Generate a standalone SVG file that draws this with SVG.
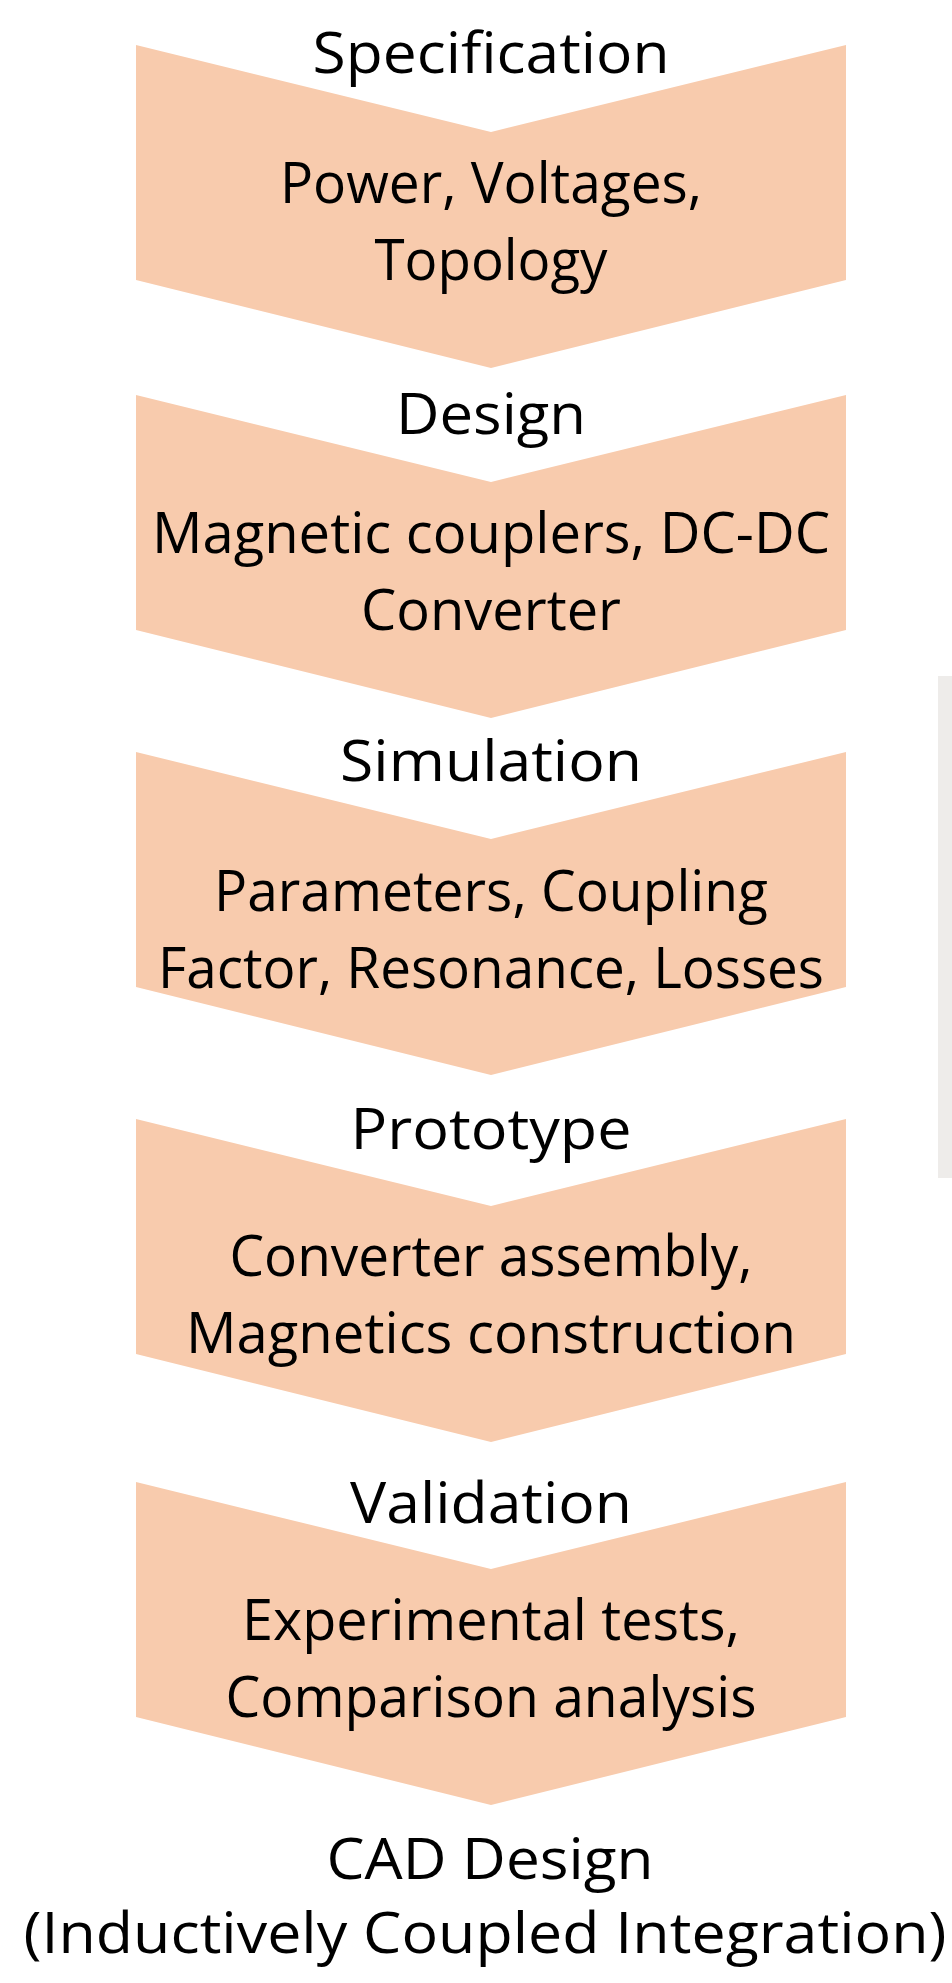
<svg xmlns="http://www.w3.org/2000/svg" width="952" height="1983" viewBox="0 0 952 1983">
<defs>
<style>
.chev{fill:#F8CBAD;stroke:none}
.t{font-family:"Open Sans","Liberation Sans",sans-serif;font-size:57px;fill:#000;text-anchor:middle}
.bar{fill:#EEECEA}
</style>
<path id="chevron" d="M0,0 L355,87 L710,0 L710,235 L355,323 L0,235 Z"/>
</defs>
<rect width="952" height="1983" fill="#FFFFFF"/>
<rect class="bar" x="938" y="676" width="14" height="502"/>
<g id="connectors"></g>
<g id="specification">
<use href="#chevron" class="chev" x="136" y="45"/>
<text class="t" x="491" y="73" textLength="357" lengthAdjust="spacingAndGlyphs">Specification</text>
<text class="t" x="491" y="203" textLength="422" lengthAdjust="spacingAndGlyphs">Power, Voltages,</text>
<text class="t" x="491" y="280" textLength="233" lengthAdjust="spacingAndGlyphs">Topology</text>
</g>
<g id="design">
<use href="#chevron" class="chev" x="136" y="395"/>
<text class="t" x="491" y="434" textLength="190" lengthAdjust="spacingAndGlyphs">Design</text>
<text class="t" x="491" y="553" textLength="678" lengthAdjust="spacingAndGlyphs">Magnetic couplers, DC-DC</text>
<text class="t" x="491" y="630" textLength="260" lengthAdjust="spacingAndGlyphs">Converter</text>
</g>
<g id="simulation">
<use href="#chevron" class="chev" x="136" y="752"/>
<text class="t" x="491" y="781" textLength="302" lengthAdjust="spacingAndGlyphs">Simulation</text>
<text class="t" x="491" y="911" textLength="554" lengthAdjust="spacingAndGlyphs">Parameters, Coupling</text>
<text class="t" x="491" y="988" textLength="666" lengthAdjust="spacingAndGlyphs">Factor, Resonance, Losses</text>
</g>
<g id="prototype">
<use href="#chevron" class="chev" x="136" y="1119"/>
<text class="t" x="491" y="1149" textLength="281" lengthAdjust="spacingAndGlyphs">Prototype</text>
<text class="t" x="491" y="1276" textLength="523" lengthAdjust="spacingAndGlyphs">Converter assembly,</text>
<text class="t" x="491" y="1353" textLength="610" lengthAdjust="spacingAndGlyphs">Magnetics construction</text>
</g>
<g id="validation">
<use href="#chevron" class="chev" x="136" y="1482"/>
<text class="t" x="491" y="1523" textLength="282" lengthAdjust="spacingAndGlyphs">Validation</text>
<text class="t" x="491" y="1640" textLength="498" lengthAdjust="spacingAndGlyphs">Experimental tests,</text>
<text class="t" x="491" y="1717" textLength="531" lengthAdjust="spacingAndGlyphs">Comparison analysis</text>
</g>
<g id="cad">
<text class="t" x="490" y="1879" textLength="327" lengthAdjust="spacingAndGlyphs">CAD Design</text>
<text class="t" x="485" y="1953" textLength="923" lengthAdjust="spacingAndGlyphs">(Inductively Coupled Integration)</text>
</g>
</svg>
